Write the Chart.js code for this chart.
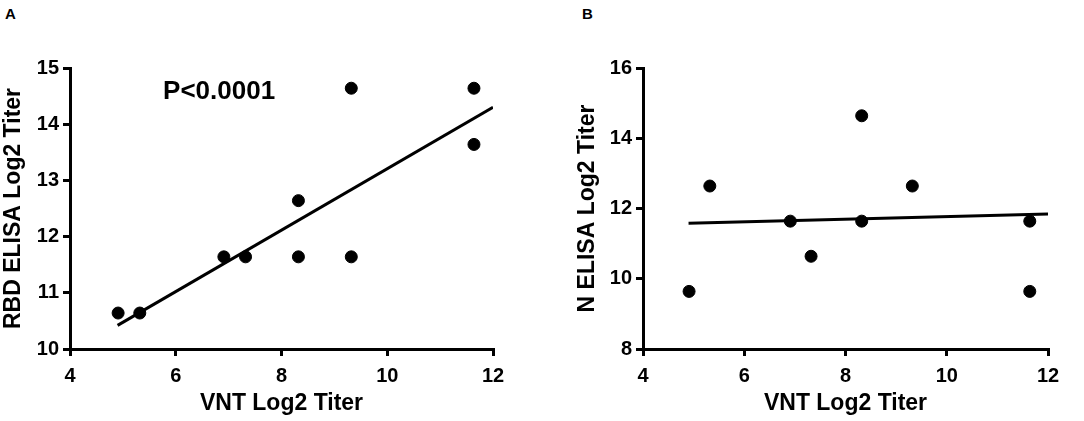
<!DOCTYPE html>
<html>
<head>
<meta charset="utf-8">
<script src="https://cdn.jsdelivr.net/npm/chart.js@4.4.1/dist/chart.umd.min.js"></script>
<style>
  html, body { margin: 0; padding: 0; background: #fff; }
  body { width: 1084px; height: 421px; position: relative; overflow: hidden; font-family: "Liberation Sans", Arial, sans-serif; }
  .panel { position: absolute; top: 0; height: 421px; }
  .tag { position: absolute; top: 5px; font-weight: bold; font-size: 15px; color: #000; }
</style>
</head>
<body>
<div class="tag" style="left:5px">A</div>
<div class="tag" style="left:582px">B</div>
<div class="panel" style="left:0;width:540px"><canvas id="chartA" width="540" height="421"></canvas></div>
<div class="panel" style="left:540px;width:544px"><canvas id="chartB" width="544" height="421"></canvas></div>
<script>
// VNT log2 titers (x) for both panels
const vntA = [4.91, 5.32, 6.91, 7.32, 8.32, 8.32, 9.32, 9.32, 11.64, 11.64];
const rbdA = [10.64, 10.64, 11.64, 11.64, 12.64, 11.64, 14.64, 11.64, 14.64, 13.64];
const fitA = [[4.9, 10.42], [12, 14.3]];

const vntB = [4.91, 5.32, 6.91, 7.32, 8.32, 8.32, 9.32, 11.64, 11.64];
const nB = [9.64, 12.64, 11.64, 10.64, 14.64, 11.64, 12.64, 11.64, 9.64];
const fitB = [[4.9, 11.58], [12, 11.84]];

const xTitle = "VNT Log2 Titer";
const yTitleA = "RBD ELISA Log2 Titer";
const yTitleB = "N ELISA Log2 Titer";
const pLabel = "P<0.0001";

const FONT = "'Liberation Sans', Arial, sans-serif";

function pts(xs, ys) {
  return xs.map((x, i) => ({ x: x, y: ys[i] }));
}

const pText = {
  id: "pText",
  afterDatasetsDraw(chart, args, opts) {
    if (!opts.text) return;
    const ctx = chart.ctx;
    const px = chart.scales.x.getPixelForValue(opts.x);
    const py = chart.scales.y.getPixelForValue(opts.y);
    ctx.save();
    ctx.font = "bold 26px " + FONT;
    ctx.fillStyle = "#000";
    ctx.textAlign = "left";
    ctx.textBaseline = "middle";
    ctx.fillText(opts.text, px, py);
    ctx.restore();
  }
};

function makeChart(id, xs, ys, fit, yMin, yMax, yStep, yTitle, padLeft, yWidth, padRight, note) {
  return new Chart(document.getElementById(id), {
    type: "scatter",
    data: {
      datasets: [
        {
          data: pts(xs, ys),
          backgroundColor: "#000",
          borderColor: "#000",
          pointRadius: 6,
          pointHoverRadius: 6
        },
        {
          type: "line",
          data: fit.map(p => ({ x: p[0], y: p[1] })),
          borderColor: "#000",
          borderWidth: 3,
          pointRadius: 0,
          fill: false
        }
      ]
    },
    options: {
      responsive: false,
      animation: false,
      events: [],
      layout: { padding: { left: padLeft, right: padRight, top: 68, bottom: 0 } },
      plugins: {
        legend: { display: false },
        tooltip: { enabled: false },
        pText: note || {}
      },
      scales: {
        x: {
          type: "linear",
          min: 4, max: 12,
          afterFit: s => { s.height = 72; },
          border: { color: "#000", width: 3 },
          grid: { drawOnChartArea: false, drawTicks: true, tickLength: 7, color: "#000", lineWidth: 3 },
          ticks: { stepSize: 2, color: "#000", padding: 8, font: { family: FONT, size: 20, weight: "bold" } },
          title: { display: true, text: xTitle, color: "#000", padding: { top: 0, bottom: 4 }, font: { family: FONT, size: 23, weight: "bold" } }
        },
        y: {
          type: "linear",
          min: yMin, max: yMax,
          afterFit: s => { s.width = yWidth; },
          border: { color: "#000", width: 3 },
          grid: { drawOnChartArea: false, drawTicks: true, tickLength: 7, color: "#000", lineWidth: 3 },
          ticks: { stepSize: yStep, color: "#000", padding: 4, font: { family: FONT, size: 20, weight: "bold" } },
          title: { display: true, text: yTitle, color: "#000", padding: { top: 0, bottom: 0 }, font: { family: FONT, size: 23, weight: "bold" } }
        }
      }
    },
    plugins: [pText]
  });
}

makeChart("chartA", vntA, rbdA, fitA, 10, 15, 1, yTitleA, 0, 70, 47, { text: pLabel, x: 5.76, y: 14.57 });
makeChart("chartB", vntB, nB, fitB, 8, 16, 2, yTitleB, 34, 69, 36, null);
</script>
</body>
</html>
